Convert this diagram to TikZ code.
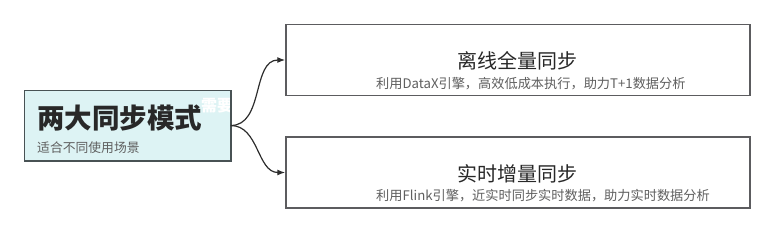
\documentclass[tikz,border=0pt]{standalone}
\usepackage{xcolor}
\usepackage{fontspec}
\usepackage{tikz}
\usetikzlibrary{arrows.meta, positioning, calc}
\setmainfont{Noto Sans CJK SC}
\definecolor{modefill}{RGB}{221, 243, 244}
\definecolor{modeborder}{RGB}{72, 82, 84}
\definecolor{boxborder}{RGB}{92, 92, 95}
\definecolor{darktext}{RGB}{40, 40, 40}
\definecolor{subtext}{RGB}{95, 95, 95}
\definecolor{linkline}{RGB}{45, 45, 45}

\begin{document}
\begin{tikzpicture}[x=1pt, y=-1pt,
    modebox/.style={fill=modefill, line width=1.5pt,
          minimum width=205pt, minimum height=69pt, inner sep=0pt},
    syncbox/.style={draw=boxborder, fill=white, line width=1.5pt,
          minimum width=464pt, minimum height=71pt, inner sep=0pt},
    headtext/.style={text=darktext, inner sep=0pt, font=\fontsize{20}{20}\selectfont},
    subline/.style={text=subtext, inner sep=0pt, anchor=west, font=\fontsize{13.2}{13.2}\selectfont},
    link/.style={draw=linkline, line width=1.2pt, -{Latex[length=8pt, width=6pt]}}
  ]
    \useasboundingbox (0,0) rectangle (775,239);

    % left: the two modes
    \node[modebox] (mode) at (127.5,125.5) {};
    \node[inner sep=0pt, anchor=west, text=darktext,
          font=\bfseries\fontsize{27.5}{27.5}\selectfont] (modetitle) at (37,118) {两大同步模式};
    \begin{scope}
      \clip (mode.north west) rectangle (mode.south east);
      \node[inner sep=0pt, anchor=west, text=white,
            font=\bfseries\fontsize{16}{16}\selectfont] (modehint) at (201,106) {需要};
    \end{scope}
    \draw[modeborder, line width=1.5pt] (mode.north west) rectangle (mode.south east);
    \node[subline, font=\fontsize{12.8}{12.8}\selectfont] (modesub) at (37,148) {适合不同使用场景};

    % right: offline / realtime
    \node[syncbox] (offline) at (518,60) {};
    \node[headtext] (offlinetitle) at (517,61) {离线全量同步};
    \node[subline] (offlinesub) at (376,83.5) {利用DataX引擎，高效低成本执行，助力T+1数据分析};

    \node[syncbox] (realtime) at (518,172.5) {};
    \node[headtext] (realtimetitle) at (517,174) {实时增量同步};
    \node[subline] (realtimesub) at (376,196) {利用Flink引擎，近实时同步实时数据，助力实时数据分析};

    \draw[link] (mode.east) to[out=0, in=180] (offline.west);
    \draw[link] (mode.east) to[out=0, in=180] (realtime.west);
\end{tikzpicture}
\end{document}
